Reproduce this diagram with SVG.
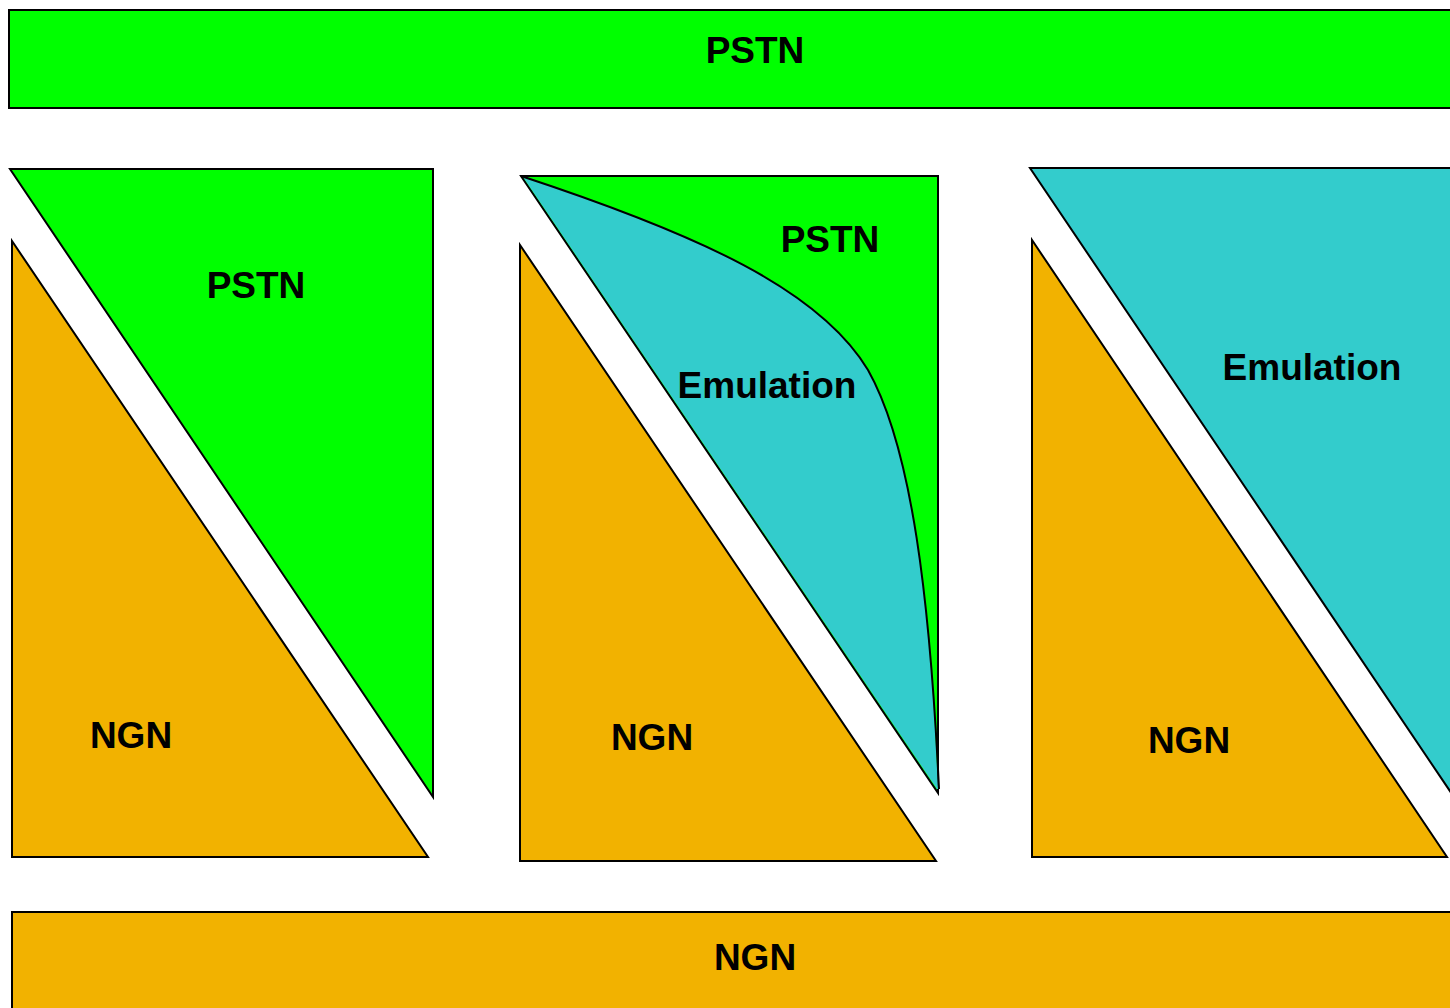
<svg xmlns="http://www.w3.org/2000/svg" width="1450" height="1008" viewBox="0 0 1450 1008">
  <style>
    .shape { stroke: #000; stroke-width: 2; stroke-linejoin: miter; }
    .pstn { fill: #00ff00; }
    .ngn { fill: #f2b200; }
    .emu { fill: #33cccc; }
    .label { font-family: "Liberation Sans", Arial, sans-serif; font-weight: bold; font-size: 37px; fill: #000; text-anchor: middle; }
  </style>
  <rect width="1450" height="1008" fill="#fff"/>

  <!-- top band -->
  <g id="pstn-band">
    <rect class="shape pstn" x="9" y="10" width="1450" height="98"/>
    <text class="label" x="755" y="63">PSTN</text>
  </g>

  <!-- left panel: PSTN vs NGN -->
  <g id="left-pstn">
    <polygon class="shape pstn" points="10,169 433,169 433,797"/>
    <text class="label" x="256" y="298">PSTN</text>
  </g>
  <g id="left-ngn">
    <polygon class="shape ngn" points="12,241 12,857 428,857"/>
    <text class="label" x="131" y="748">NGN</text>
  </g>

  <!-- middle panel: PSTN with emulation growing in -->
  <g id="mid-pstn">
    <polygon class="shape pstn" points="521,176 938,176 938,793"/>
    <text class="label" x="830" y="252">PSTN</text>
  </g>
  <g id="mid-emulation">
    <path class="emu" d="M524,177 C 700,235 820,290 868,370 C 912,448 930,600 938,789 L 937,789 L 523,177 Z"/>
    <path d="M521,176 C 700,235 820,290 868,370 C 912,448 930,600 939,789" fill="none" stroke="#000" stroke-width="2"/>
    <text class="label" x="767" y="398">Emulation</text>
  </g>
  <g id="mid-ngn">
    <polygon class="shape ngn" points="520,245 520,861 936,861"/>
    <text class="label" x="652" y="750">NGN</text>
  </g>

  <!-- right panel: emulation vs NGN -->
  <g id="right-emulation">
    <polygon class="shape emu" points="1030,168 1460,168 1460,806"/>
    <text class="label" x="1312" y="380">Emulation</text>
  </g>
  <g id="right-ngn">
    <polygon class="shape ngn" points="1032,240 1032,857 1447,857"/>
    <text class="label" x="1189" y="753">NGN</text>
  </g>

  <!-- bottom band -->
  <g id="ngn-band">
    <rect class="shape ngn" x="12" y="912" width="1450" height="110"/>
    <text class="label" x="755" y="970">NGN</text>
  </g>

  <g id="connectors"/>
</svg>
